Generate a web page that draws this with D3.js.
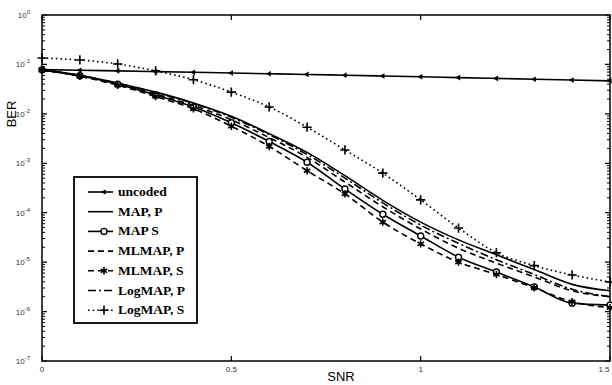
<!DOCTYPE html>
<html>
<head>
<meta charset="utf-8">
<script src="https://cdn.jsdelivr.net/npm/d3@7"></script>
<style>
  body { margin: 0; background: #fff; }
  svg { display: block; }
</style>
</head>
<body>
<svg id="chart" width="612" height="385"></svg>
<script>
// values (BER vs SNR in dB)
var snr = [0, 0.1, 0.2, 0.3, 0.4, 0.5, 0.6, 0.7, 0.8, 0.9, 1.0, 1.1, 1.2, 1.3, 1.4, 1.5];

var uncoded  = [7.86e-2, 7.63e-2, 7.39e-2, 7.16e-2, 6.93e-2, 6.71e-2, 6.48e-2, 6.27e-2,
                6.05e-2, 5.84e-2, 5.63e-2, 5.42e-2, 5.22e-2, 5.02e-2, 4.83e-2, 4.64e-2];
var mapP     = [7.76e-2, 6.03e-2, 4.17e-2, 2.75e-2, 1.66e-2, 8.91e-3, 3.98e-3, 1.66e-3,
                5.62e-4, 1.78e-4, 6.46e-5, 2.82e-5, 1.41e-5, 7.08e-6, 3.55e-6, 2.63e-6];
var mapS     = [7.76e-2, 5.89e-2, 3.98e-2, 2.40e-2, 1.38e-2, 6.61e-3, 2.75e-3, 1.05e-3,
                3.02e-4, 9.33e-5, 3.39e-5, 1.26e-5, 6.31e-6, 3.16e-6, 1.48e-6, 1.35e-6];
var mlmapP   = [7.76e-2, 5.89e-2, 4.07e-2, 2.51e-2, 1.48e-2, 7.59e-3, 3.31e-3, 1.32e-3,
                4.17e-4, 1.32e-4, 4.68e-5, 1.91e-5, 9.55e-6, 5.01e-6, 2.63e-6, 2.00e-6];
var mlmapS   = [7.76e-2, 5.75e-2, 3.80e-2, 2.24e-2, 1.26e-2, 5.62e-3, 2.19e-3, 7.08e-4,
                2.40e-4, 6.46e-5, 2.34e-5, 1.00e-5, 5.62e-6, 3.02e-6, 1.58e-6, 1.20e-6];
var logmapP  = [7.76e-2, 6.03e-2, 4.17e-2, 2.69e-2, 1.62e-2, 8.51e-3, 3.80e-3, 1.51e-3,
                5.01e-4, 1.58e-4, 5.62e-5, 2.40e-5, 1.12e-5, 5.62e-6, 2.82e-6, 2.00e-6];
var logmapS  = [1.35e-1, 1.23e-1, 1.02e-1, 7.41e-2, 4.90e-2, 2.75e-2, 1.38e-2, 5.37e-3,
                1.86e-3, 6.31e-4, 1.82e-4, 4.90e-5, 1.55e-5, 8.50e-6, 5.50e-6, 3.98e-6];

var seriesNames = ["uncoded", "MAP, P", "MAP S", "MLMAP, P", "MLMAP, S", "LogMAP, P", "LogMAP, S"];

var xTicks = [0, 0.5, 1, 1.5];
var xTickLabels = ["0", "0.5", "1", "1.5"];
var yTicks = [1, 1e-1, 1e-2, 1e-3, 1e-4, 1e-5, 1e-6, 1e-7];
var yTickExps = ["0", "-1", "-2", "-3", "-4", "-5", "-6", "-7"];

// ---- layout
var plotL = 42, plotR = 610, plotT = 15, plotB = 361;

var svg = d3.select("#chart");

var x = d3.scaleLinear().domain([0, 1.5]).range([plotL, plotR]);
var y = d3.scaleLog().domain([1, 1e-7]).range([plotT, plotB]);

// style of each series: dash, marker
var styles = [
  {data: uncoded, dash: null,      marker: "tri"},
  {data: mapP,    dash: null,      marker: null},
  {data: mapS,    dash: null,      marker: "circle"},
  {data: mlmapP,  dash: "6,4",     marker: null},
  {data: mlmapS,  dash: "6,4",     marker: "star"},
  {data: logmapP, dash: "8,3,2,3", marker: null},
  {data: logmapS, dash: "1.6,3",   marker: "plus"}
];

function drawMarker(g, type, cx, cy){
  if (type === "circle"){
    g.append("circle").attr("cx", cx).attr("cy", cy).attr("r", 3)
      .attr("fill", "#fff").attr("stroke", "#000").attr("stroke-width", 1.4);
  } else if (type === "tri"){
    g.append("path").attr("d", d3.symbol().type(d3.symbolTriangle).size(14)())
      .attr("transform", "translate(" + cx + "," + cy + ") rotate(-90)")
      .attr("fill", "#000");
  } else if (type === "star"){
    g.append("path").attr("d", d3.symbol().type(d3.symbolAsterisk).size(38)())
      .attr("transform", "translate(" + cx + "," + cy + ")")
      .attr("fill", "none").attr("stroke", "#000").attr("stroke-width", 1.6);
  } else if (type === "plus"){
    g.append("path").attr("d", d3.symbol().type(d3.symbolPlus).size(30)())
      .attr("transform", "translate(" + cx + "," + cy + ")")
      .attr("fill", "none").attr("stroke", "#000").attr("stroke-width", 1.6);
  }
}

// ---- frame and ticks
var frame = svg.append("g");
frame.append("rect")
  .attr("x", plotL).attr("y", plotT)
  .attr("width", plotR - plotL).attr("height", plotB - plotT)
  .attr("fill", "none").attr("stroke", "#000").attr("stroke-width", 1.5);

// minor log ticks on both sides
var minor = [];
for (var e = 0; e > -7; e--){
  for (var m = 2; m < 10; m++){
    minor.push(m * Math.pow(10, e - 1));
  }
}
frame.selectAll(".minor")
  .data(minor).enter().append("path")
  .attr("d", function(d){
    var yy = y(d);
    return "M" + plotL + "," + yy + "h3M" + plotR + "," + yy + "h-3";
  })
  .attr("stroke", "#000").attr("stroke-width", 1);

frame.selectAll(".ymajor")
  .data(yTicks).enter().append("path")
  .attr("d", function(d){
    var yy = y(d);
    return "M" + plotL + "," + yy + "h5M" + plotR + "," + yy + "h-5";
  })
  .attr("stroke", "#000").attr("stroke-width", 1.2);

frame.selectAll(".xmajor")
  .data(xTicks).enter().append("path")
  .attr("d", function(d){
    var xx = x(d);
    return "M" + xx + "," + plotB + "v-5M" + xx + "," + plotT + "v5";
  })
  .attr("stroke", "#000").attr("stroke-width", 1.2);

// tick labels
svg.selectAll(".xlab")
  .data(xTicks).enter().append("text")
  .attr("x", function(d){ return Math.min(x(d), 604); })
  .attr("y", plotB + 11)
  .attr("text-anchor", "middle")
  .attr("font-family", "Liberation Sans, Arial, sans-serif")
  .attr("font-size", 8)
  .attr("fill", "#333")
  .text(function(d, i){ return xTickLabels[i]; });

var ylab = svg.selectAll(".ylab")
  .data(yTicks).enter().append("text")
  .attr("x", 30)
  .attr("y", function(d){ return y(d) + 3; })
  .attr("text-anchor", "end")
  .attr("font-family", "Liberation Sans, Arial, sans-serif")
  .attr("font-size", 8)
  .attr("fill", "#333");
ylab.append("tspan").text("10");
ylab.append("tspan")
  .attr("dy", -4).attr("font-size", 6)
  .text(function(d, i){ return yTickExps[i]; });

// axis titles
svg.append("text")
  .attr("transform", "translate(16,114) rotate(-90)")
  .attr("text-anchor", "middle")
  .attr("font-family", "Liberation Sans, Arial, sans-serif")
  .attr("font-size", 13)
  .text("BER");

svg.append("text")
  .attr("x", 341).attr("y", 381)
  .attr("text-anchor", "middle")
  .attr("font-family", "Liberation Sans, Arial, sans-serif")
  .attr("font-size", 13)
  .text("SNR");

// ---- curves
var line = d3.line()
  .x(function(d, i){ return x(snr[i]); })
  .y(function(d){ return y(d); })
  .curve(d3.curveMonotoneX);

var curves = svg.append("g");
styles.forEach(function(s){
  curves.append("path")
    .datum(s.data)
    .attr("d", line)
    .attr("fill", "none")
    .attr("stroke", "#000")
    .attr("stroke-width", 1.6)
    .attr("stroke-dasharray", s.dash);
  if (s.marker){
    var g = curves.append("g");
    s.data.forEach(function(v, i){
      drawMarker(g, s.marker, x(snr[i]), y(v));
    });
  }
});

// ---- legend
var lgX = 74, lgY = 177, lgW = 123, lgH = 146;
var legend = svg.append("g");
legend.append("rect")
  .attr("x", lgX).attr("y", lgY).attr("width", lgW).attr("height", lgH)
  .attr("fill", "#fff").attr("stroke", "#000").attr("stroke-width", 1.8);

styles.forEach(function(s, i){
  var yy = 192 + i * 19.7;
  legend.append("line")
    .attr("x1", 88).attr("x2", 113)
    .attr("y1", yy).attr("y2", yy)
    .attr("stroke", "#000").attr("stroke-width", 1.6)
    .attr("stroke-dasharray", s.dash);
  if (s.marker) drawMarker(legend, s.marker, 104, yy);
  legend.append("text")
    .attr("x", 118).attr("y", yy + 4)
    .attr("font-family", "Liberation Serif, Times New Roman, serif")
    .attr("font-size", 13.5)
    .attr("font-weight", "bold")
    .text(seriesNames[i]);
});
</script>
</body>
</html>
